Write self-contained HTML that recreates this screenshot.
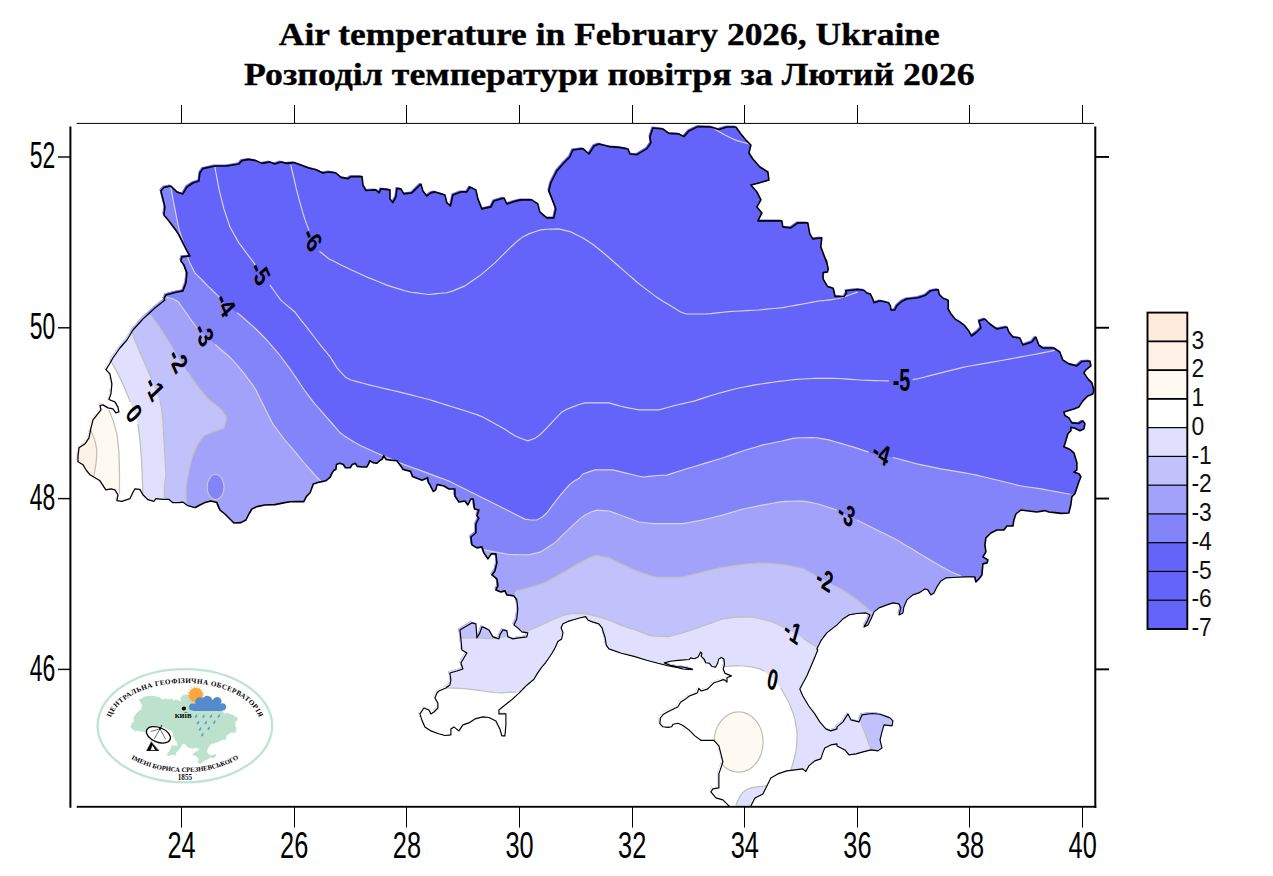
<!DOCTYPE html>
<html><head><meta charset="utf-8"><title>Air temperature in February 2026, Ukraine</title>
<style>
html,body{margin:0;padding:0;background:#fff;}
body{width:1273px;height:876px;overflow:hidden;position:relative;font-family:"Liberation Sans",sans-serif;}
.t{position:absolute;left:0;width:1273px;text-align:center;font-family:"Liberation Serif",serif;font-weight:bold;font-size:31.5px;color:#000;white-space:nowrap;line-height:36px;}
svg{position:absolute;left:0;top:0;}
svg text{font-family:"Liberation Sans",sans-serif;}
</style></head><body>

<svg width="1273" height="876" viewBox="0 0 1273 876">
<defs><clipPath id="ua"><path d="M163.9,298.9 L165.9,294.9 L174.9,292.5 L182.9,290.9 L185.9,282.9 L186.9,272.9 L183.9,264.9 L180.9,260.9 L181.9,256.9 L189.9,255.9 L186.9,250.9 L182.9,242.9 L178.9,234.9 L174.9,228.9 L168.9,220.9 L163.9,214.9 L164.9,206.9 L162.9,198.9 L160.9,190.9 L163.9,187.4 L170.9,186.0 L176.9,191.9 L182.9,193.9 L186.9,187.0 L192.9,183.0 L198.9,181.0 L199.9,173.0 L202.9,168.6 L214.9,166.0 L226.9,166.0 L238.9,164.0 L241.9,160.6 L248.9,159.4 L255.9,160.6 L261.9,163.4 L269.8,162.0 L274.8,164.0 L280.8,162.0 L286.8,163.4 L293.8,162.6 L300.8,165.0 L308.8,168.0 L316.8,170.0 L322.8,173.0 L329.0,172.0 L336.0,173.0 L341.0,177.4 L348.0,178.6 L351.0,176.6 L362.0,176.6 L363.0,185.0 L366.0,190.5 L376.0,189.9 L379.0,192.9 L381.0,188.9 L390.0,189.9 L390.0,198.9 L392.9,202.5 L395.9,196.9 L396.9,188.5 L400.9,188.9 L403.9,193.9 L411.9,192.9 L416.9,187.9 L420.9,184.0 L422.9,190.9 L426.9,195.9 L430.9,192.9 L434.9,191.9 L444.9,194.9 L446.9,202.9 L450.5,205.9 L452.9,194.9 L460.9,191.9 L466.9,191.9 L469.9,187.0 L475.9,189.9 L477.9,198.9 L481.9,208.9 L490.9,206.9 L493.9,200.9 L503.9,197.9 L506.9,203.9 L512.9,201.9 L520.8,199.9 L531.8,199.9 L537.8,203.9 L539.8,211.9 L546.8,217.9 L553.8,217.9 L555.8,208.9 L552.8,200.9 L548.8,190.9 L550.8,183.0 L556.8,171.0 L563.8,163.0 L569.8,157.0 L572.8,150.0 L583.0,148.6 L589.0,154.0 L594.0,146.0 L599.0,144.0 L609.0,146.6 L619.0,147.4 L628.0,149.0 L630.0,154.0 L637.0,154.6 L646.9,148.6 L650.9,143.0 L649.9,137.0 L652.9,128.0 L662.9,129.0 L668.9,133.4 L678.9,134.0 L683.9,136.6 L688.9,131.0 L697.9,126.6 L710.9,127.0 L718.9,129.4 L726.9,127.0 L735.9,127.0 L740.9,134.0 L745.9,140.0 L750.9,145.0 L748.9,153.0 L752.9,159.0 L759.9,167.0 L767.9,172.0 L768.9,180.0 L758.9,183.0 L750.9,185.0 L756.9,191.9 L760.9,199.9 L756.9,206.9 L761.9,212.9 L757.9,220.9 L766.9,220.9 L774.8,220.9 L781.8,220.9 L782.8,226.9 L790.8,227.9 L797.8,222.9 L807.8,222.9 L809.8,233.9 L812.8,238.9 L821.8,237.9 L820.8,246.9 L823.8,254.9 L826.8,262.9 L826.3,260.0 L828.2,268.8 L827.5,271.9 L823.1,272.6 L823.1,278.9 L825.7,283.3 L827.5,286.4 L833.2,288.3 L835.1,296.5 L843.9,296.5 L846.4,293.3 L845.8,290.8 L857.7,289.5 L864.0,290.2 L867.1,293.3 L870.3,293.9 L872.8,299.0 L874.0,302.7 L880.3,300.8 L888.5,302.7 L890.4,305.9 L891.0,310.0 L894.8,310.0 L896.7,305.9 L901.7,301.5 L906.7,299.0 L918.0,297.7 L925.6,295.2 L930.6,290.8 L938.1,289.5 L939.4,294.6 L943.2,298.3 L948.2,300.2 L948.2,309.0 L950.7,313.4 L955.1,319.1 L959.5,321.6 L964.5,325.4 L968.9,331.0 L971.5,336.0 L976.9,332.0 L980.9,328.0 L978.9,321.0 L984.9,319.0 L989.9,324.0 L996.9,329.0 L1006.9,327.0 L1008.9,332.0 L1012.9,337.0 L1019.9,338.0 L1022.9,345.0 L1031.8,342.0 L1035.8,337.0 L1038.8,345.0 L1042.8,348.0 L1053.8,348.0 L1059.8,352.0 L1062.8,360.0 L1068.9,363.9 L1076.9,365.9 L1081.9,361.5 L1089.9,361.0 L1090.9,365.9 L1085.9,369.9 L1083.9,372.9 L1087.9,378.9 L1091.9,382.9 L1093.8,389.9 L1092.9,393.9 L1087.9,395.9 L1082.9,400.9 L1078.9,406.9 L1073.9,408.9 L1063.9,411.9 L1064.9,415.5 L1068.9,417.9 L1071.9,422.9 L1078.9,423.5 L1082.9,420.9 L1084.9,423.8 L1083.9,428.8 L1079.9,430.8 L1074.9,428.2 L1070.9,427.4 L1070.9,430.8 L1067.9,433.8 L1065.9,440.8 L1063.9,446.8 L1069.9,449.4 L1073.9,452.8 L1076.9,462.8 L1076.9,469.8 L1073.9,472.2 L1078.9,473.8 L1080.9,476.8 L1078.9,481.8 L1076.9,487.7 L1074.9,493.7 L1071.9,496.7 L1070.8,505.0 L1068.8,513.0 L1060.8,513.4 L1054.8,512.6 L1048.8,512.0 L1044.8,510.6 L1036.8,512.0 L1028.8,511.0 L1020.9,510.0 L1015.9,514.0 L1013.9,520.0 L1012.9,526.0 L1006.9,526.0 L1003.9,530.0 L996.9,530.0 L990.9,533.0 L985.9,537.9 L984.9,544.9 L985.9,551.9 L982.9,556.9 L987.9,559.9 L986.9,562.9 L982.9,563.9 L981.9,574.9 L978.9,578.9 L975.9,581.9 L974.9,576.9 L964.9,576.9 L956.9,577.3 L945.9,577.9 L940.9,580.9 L936.9,586.9 L933.9,592.9 L930.9,594.9 L927.9,589.9 L924.9,588.9 L918.9,592.9 L912.9,594.9 L906.9,599.9 L903.9,606.9 L902.9,612.9 L899.0,614.9 L900.9,607.9 L899.0,603.9 L893.0,602.9 L887.0,604.9 L879.0,607.9 L874.0,611.9 L871.0,618.9 L868.0,624.9 L864.0,626.9 L867.0,621.9 L870.0,614.9 L866.0,612.9 L857.0,613.5 L849.0,614.9 L843.0,618.9 L837.0,624.9 L826.8,632.9 L820.8,640.9 L816.8,648.9 L817.8,650.0 L812.8,662.0 L806.8,676.0 L799.8,689.0 L802.8,696.0 L808.8,706.0 L814.8,713.9 L819.8,721.9 L825.8,728.9 L830.8,730.9 L837.0,728.9 L837.0,726.9 L843.0,721.9 L848.0,713.9 L851.0,719.9 L859.0,721.9 L862.0,714.9 L872.0,713.5 L880.0,714.3 L890.0,717.9 L893.0,720.9 L892.0,725.9 L884.0,724.9 L882.0,731.9 L880.0,739.9 L882.0,747.9 L878.0,750.9 L871.0,749.9 L863.0,751.9 L856.0,753.9 L849.0,754.9 L845.0,749.9 L837.0,745.9 L837.0,743.9 L830.8,744.9 L824.8,747.9 L822.8,752.9 L820.8,758.9 L814.8,760.9 L808.8,765.9 L805.8,771.5 L802.8,768.9 L794.8,769.9 L786.8,770.9 L777.8,773.9 L770.8,777.9 L765.9,787.9 L762.9,793.9 L754.9,797.9 L752.9,801.9 L749.9,807.9 L740.9,809.9 L730.9,808.9 L728.9,805.9 L726.9,803.9 L722.9,799.9 L715.9,797.9 L710.9,791.9 L712.9,788.9 L718.9,787.9 L718.9,773.9 L720.9,767.9 L722.9,761.9 L720.9,753.9 L718.9,745.9 L713.9,740.3 L706.9,740.3 L700.9,740.3 L694.9,735.9 L688.9,729.9 L682.9,725.5 L678.0,723.3 L673.0,724.3 L671.7,726.8 L667.9,727.4 L662.9,726.8 L659.8,723.6 L660.4,718.0 L663.5,714.2 L667.9,711.7 L673.0,709.2 L678.0,706.7 L680.5,702.3 L685.5,699.1 L689.3,696.0 L694.3,694.1 L697.5,692.8 L698.7,688.4 L701.2,691.0 L707.5,689.1 L710.7,685.9 L713.8,682.8 L718.2,681.5 L723.2,679.6 L725.1,680.3 L727.0,682.2 L727.0,677.8 L731.4,675.9 L728.3,674.6 L725.1,673.4 L723.2,669.0 L724.5,664.6 L723.9,658.9 L721.3,657.4 L718.8,658.9 L717.6,663.3 L715.7,667.1 L711.9,666.5 L709.4,663.3 L705.6,662.7 L704.4,659.5 L701.2,656.4 L701.9,653.3 L700.6,652.0 L698.1,657.0 L694.3,658.7 L690.6,657.9 L689.3,659.5 L678.0,660.4 L670.4,661.2 L664.2,662.9 L670.4,665.2 L676.7,666.5 L683.0,667.1 L692.4,669.0 L692.4,669.6 L683.0,669.0 L678.0,667.7 L667.9,665.8 L657.9,663.3 L646.6,660.2 L634.0,656.4 L621.4,653.3 L608.9,648.9 L606.3,645.1 L605.1,637.5 L602.6,630.0 L602.5,628.3 L598.8,623.9 L593.1,622.1 L588.1,620.2 L585.6,616.6 L580.6,617.7 L574.3,619.5 L568.0,621.4 L563.0,623.7 L561.1,627.7 L563.0,632.7 L561.7,639.0 L557.9,641.5 L555.4,647.2 L552.3,652.8 L548.5,658.5 L545.4,662.9 L541.6,667.3 L537.2,673.6 L534.0,679.2 L526.5,685.5 L519.0,693.1 L512.1,699.4 L498.9,710.0 L498.9,713.9 L505.9,713.9 L505.9,724.9 L504.9,735.9 L501.9,735.9 L499.9,728.9 L495.9,720.9 L488.9,717.5 L482.9,716.9 L474.9,718.9 L468.9,722.9 L462.9,724.9 L458.9,730.9 L453.9,726.9 L450.9,728.9 L450.9,734.9 L444.9,735.5 L437.9,733.5 L430.9,730.9 L424.9,726.9 L421.9,719.9 L419.9,713.9 L423.9,708.0 L428.9,710.0 L430.9,713.9 L433.9,712.0 L437.9,708.0 L437.9,703.0 L434.9,698.0 L436.9,693.0 L438.9,691.0 L445.9,688.0 L449.9,685.0 L450.9,680.0 L449.9,673.0 L456.9,671.0 L462.9,669.0 L460.9,663.0 L463.9,658.0 L466.9,653.0 L461.9,650.0 L460.9,638.9 L459.9,629.9 L464.9,626.9 L471.9,622.9 L475.9,623.9 L476.9,637.9 L479.9,632.9 L481.9,626.9 L484.9,627.9 L488.9,629.9 L492.9,636.9 L498.9,638.9 L499.9,634.9 L502.9,629.9 L506.9,630.9 L507.9,636.9 L512.9,638.9 L518.8,637.9 L526.8,636.9 L527.8,632.9 L521.8,631.9 L518.8,628.9 L513.9,624.9 L516.8,618.9 L517.8,608.9 L516.8,599.9 L513.9,595.9 L506.9,594.9 L504.9,590.9 L500.9,591.9 L495.9,589.9 L497.9,585.9 L496.9,578.9 L491.9,574.9 L494.9,570.9 L496.9,562.9 L495.9,553.9 L491.3,553.9 L487.9,558.9 L483.9,552.9 L481.9,546.9 L476.9,547.9 L471.9,544.9 L470.9,537.0 L475.9,533.0 L475.9,524.0 L478.9,518.0 L476.9,516.0 L478.9,510.0 L474.5,509.0 L473.3,499.0 L470.9,499.0 L467.9,505.0 L464.9,501.0 L458.9,502.0 L454.9,496.0 L454.9,489.0 L448.9,489.0 L443.9,486.0 L437.9,484.6 L437.1,484.6 L435.8,489.6 L433.3,491.5 L430.1,485.2 L428.3,482.1 L427.6,477.7 L422.0,480.2 L416.9,478.3 L412.5,476.5 L410.7,471.4 L403.1,469.5 L400.6,465.8 L396.8,460.7 L390.6,460.1 L386.2,459.5 L383.6,455.7 L382.4,458.9 L379.9,460.7 L376.7,463.3 L373.0,462.6 L369.8,460.7 L368.6,463.9 L366.7,467.0 L362.3,467.0 L357.2,466.4 L355.4,463.3 L352.2,464.5 L350.3,467.7 L345.3,467.7 L343.4,464.5 L339.6,463.3 L336.5,464.5 L335.9,469.5 L334.0,470.2 L332.1,472.9 L330.2,477.1 L325.8,480.8 L319.5,482.1 L313.3,484.0 L310.1,492.8 L306.3,496.6 L303.8,501.6 L297.5,501.6 L290.0,501.8 L284.8,502.6 L274.8,504.6 L264.8,505.0 L256.9,506.6 L251.9,509.0 L248.9,514.0 L245.9,520.0 L240.9,522.6 L233.9,523.0 L229.9,519.0 L224.9,514.0 L219.9,510.0 L216.9,502.6 L210.9,501.0 L204.9,502.6 L199.9,505.0 L194.8,507.7 L187.8,505.7 L182.8,502.1 L178.8,502.7 L172.8,502.7 L168.8,499.3 L162.9,499.3 L155.9,498.7 L153.9,501.3 L147.9,499.7 L142.9,494.8 L139.9,489.4 L134.9,488.8 L132.3,493.8 L129.9,498.7 L121.9,501.3 L116.9,500.7 L117.9,494.8 L114.9,489.8 L110.9,488.8 L105.9,489.8 L103.9,486.8 L100.0,480.8 L95.0,477.8 L90.0,474.8 L86.0,469.8 L83.0,464.8 L78.0,461.8 L78.0,455.8 L79.0,447.8 L85.0,443.8 L89.0,437.8 L91.0,427.9 L93.0,419.9 L97.0,414.9 L101.0,409.9 L100.0,405.5 L102.9,404.9 L107.9,407.9 L112.9,408.9 L115.9,412.9 L118.9,411.9 L117.9,406.9 L114.9,401.9 L108.9,399.5 L110.9,393.9 L111.9,383.9 L109.9,373.9 L105.9,369.6 L108.9,365.0 L112.9,358.0 L119.9,348.0 L126.9,340.0 L133.0,330.0 L142.9,319.0 L154.9,308.0 L164.9,300.0 Z"/></clipPath><clipPath id="fr"><rect x="71" y="123" width="1024" height="683.5"/></clipPath></defs>
<g clip-path="url(#fr)">
<use href="#mapfill" transform="translate(-1.4,-1.4)"/>
<g clip-path="url(#ua)" id="mapfill">
<rect x="60" y="110" width="1060" height="720" fill="rgb(100,100,250)"/>
<path d="M0.0,170.0 L170.0,170.0 L170.9,187.9 L174.9,208.9 L178.9,228.9 L183.9,244.9 L188.9,260.9 L194.9,272.9 L204.9,282.9 L214.9,292.9 L220.9,298.9 L227.9,306.0 L238.9,314.0 L254.9,328.0 L266.8,340.0 L278.8,354.0 L290.8,369.9 L302.8,387.9 L314.8,403.9 L329.0,419.9 L341.0,433.9 L359.0,444.9 L381.0,454.9 L404.9,464.9 L418.9,469.9 L432.9,475.1 L448.9,481.0 L468.9,491.0 L488.9,501.0 L508.9,511.0 L526.8,520.0 L538.8,520.0 L546.8,513.0 L558.8,497.0 L570.8,483.0 L583.0,476.0 L583.0,473.9 L595.0,469.9 L613.0,469.9 L629.0,473.9 L643.0,477.0 L662.9,475.0 L666.9,475.1 L682.9,469.9 L702.9,463.9 L722.9,457.9 L742.9,450.9 L762.9,444.9 L782.8,440.9 L794.8,437.9 L814.8,437.5 L828.8,439.9 L837.0,442.3 L853.0,446.9 L871.0,452.9 L882.0,455.3 L895.0,457.9 L916.9,463.9 L940.9,468.9 L964.9,472.9 L976.9,475.1 L1000.0,480.8 L1020.0,485.8 L1039.9,488.7 L1069.9,494.1 L1200.0,500.0 L1200.0,900.0 L0.0,900.0 Z" fill="rgb(131,131,250)"/>
<path d="M0.0,297.0 L166.0,297.0 L176.9,300.0 L186.9,314.0 L196.9,328.0 L206.9,337.0 L216.9,346.0 L230.9,358.0 L242.9,371.9 L254.9,387.9 L262.8,403.9 L272.8,423.9 L284.8,439.9 L296.8,453.9 L306.8,465.9 L314.8,475.1 L320.8,481.0 L325.0,520.0 L470.0,560.0 L483.9,549.9 L494.9,551.9 L508.9,554.5 L528.8,554.9 L540.8,551.9 L554.8,542.9 L568.8,529.0 L583.0,516.0 L595.0,510.0 L609.0,511.0 L623.0,516.0 L639.0,522.0 L652.9,523.6 L682.9,523.6 L702.9,520.0 L722.9,515.0 L742.9,509.0 L762.9,505.0 L782.8,501.4 L802.8,501.0 L818.8,504.0 L837.0,510.0 L848.0,516.0 L857.0,520.0 L877.0,530.0 L897.0,539.9 L916.9,551.9 L936.9,563.9 L948.9,570.9 L960.9,575.9 L1200.0,600.0 L1200.0,900.0 L0.0,900.0 Z" fill="rgb(162,162,250)"/>
<ellipse cx="215.6" cy="487" rx="8.5" ry="12.5" fill="rgb(131,131,250)"/>
<path d="M0.0,315.0 L150.9,315.0 L158.9,326.0 L168.9,342.0 L179.9,360.0 L188.9,373.9 L198.9,387.9 L208.9,399.9 L220.9,408.9 L226.9,417.9 L223.9,427.9 L212.9,431.9 L202.9,435.9 L196.9,445.9 L191.9,457.9 L187.9,475.1 L185.9,487.0 L186.5,503.0 L190.0,560.0 L500.0,620.0 L515.9,590.9 L528.8,587.9 L544.8,582.9 L562.8,572.9 L583.0,560.9 L595.0,555.3 L609.0,557.9 L623.0,564.9 L639.0,571.9 L654.9,577.3 L682.9,577.3 L702.9,571.9 L722.9,567.3 L742.9,564.5 L762.9,562.9 L782.8,564.5 L802.8,568.5 L814.8,574.9 L825.8,580.9 L837.0,586.9 L849.0,593.9 L861.0,602.9 L870.0,610.9 L1200.0,640.0 L1200.0,900.0 L0.0,900.0 Z" fill="rgb(193,193,252)"/>
<path d="M0.0,333.0 L132.0,333.0 L138.9,350.0 L145.9,365.9 L151.9,379.9 L155.9,390.9 L160.9,403.9 L162.9,419.9 L163.9,439.9 L164.9,455.9 L165.9,475.1 L164.3,487.0 L164.5,498.6 L165.0,560.0 L430.0,600.0 L440.0,638.0 L461.9,637.9 L476.9,637.9 L494.9,638.9 L528.4,630.8 L536.6,627.1 L545.4,623.3 L555.4,618.3 L565.5,614.5 L575.5,613.3 L586.8,613.9 L599.4,617.0 L612.0,621.4 L624.5,626.5 L640.0,631.5 L650.9,635.9 L668.9,636.5 L682.9,632.9 L702.9,625.9 L722.9,618.9 L738.9,616.9 L754.9,617.3 L772.8,621.9 L794.8,632.9 L806.8,640.9 L816.8,646.9 L850.0,680.0 L861.0,722.9 L866.0,735.9 L871.0,749.9 L875.0,800.0 L875.0,900.0 L0.0,900.0 Z" fill="rgb(224,224,254)"/>
<path d="M0.0,361.0 L110.9,361.0 L116.9,371.9 L122.9,383.9 L127.9,395.9 L130.9,403.9 L134.3,412.9 L137.9,423.9 L139.9,439.8 L141.5,459.8 L142.3,479.8 L142.9,493.8 L143.0,600.0 L0.0,600.0 Z" fill="rgb(255,255,255)"/>
<path d="M400.0,688.0 L446.9,688.0 L464.9,688.6 L482.9,691.0 L498.9,693.0 L516.8,692.0 L560.0,692.0 L560.0,900.0 L400.0,900.0 Z" fill="rgb(255,255,255)"/>
<path d="M724.5,666.5 L738.9,665.6 L752.9,667.0 L762.9,670.0 L772.4,678.0 L780.8,688.0 L788.8,702.0 L794.8,717.9 L797.2,733.9 L796.4,749.9 L792.8,763.9 L790.8,769.9 L778.0,782.0 L765.9,785.9 L756.9,786.9 L748.9,787.9 L740.9,793.9 L735.9,804.9 L736.0,830.0 L650.0,830.0 L650.0,700.0 L700.0,680.0 L723.0,668.0 Z" fill="rgb(255,255,255)"/>
<path d="M0.0,410.0 L108.9,409.9 L112.9,419.9 L116.9,433.8 L118.9,451.8 L119.5,471.8 L119.5,493.8 L119.5,600.0 L0.0,600.0 Z" fill="rgb(254,249,241)"/>
<ellipse cx="738.6" cy="742" rx="24.5" ry="30.2" fill="rgb(254,249,241)"/>
<path d="M0.0,431.0 L91.0,430.9 L95.0,439.8 L97.0,451.8 L96.0,463.8 L94.0,475.8 L94.0,600.0 L0.0,600.0 Z" fill="rgb(254,242,230)"/>
<path d="M170.9,187.9 L172.1,194.2 L173.3,200.5 L174.5,206.8 L175.7,212.9 L176.9,218.9 L178.1,224.9 L179.5,230.9 L181.4,236.9 L183.3,242.9 L185.2,248.9 L187.0,254.9 L188.9,260.9 L191.9,266.9 L194.9,272.9 L199.2,277.2 L203.5,281.5 L207.8,285.8 L212.0,290.0 L216.4,294.4 L219.4,297.4 M237.1,312.7 L242.1,316.8 L246.9,321.0 L251.7,325.2 L256.4,329.5 L260.9,334.0 L265.3,338.5 L269.5,343.1 L273.5,347.8 L277.5,352.4 L281.5,357.5 L285.5,362.8 L289.5,368.1 L293.2,373.5 L296.8,378.9 L300.4,384.3 L304.0,389.5 L307.6,394.3 L311.2,399.1 L314.8,403.9 L319.1,408.7 L323.3,413.5 L327.6,418.3 L331.7,423.0 L335.7,427.7 L339.7,432.3 L344.6,436.1 L350.0,439.4 L355.4,442.7 L360.8,445.7 L366.3,448.2 L371.8,450.7 L377.3,453.2 L383.0,455.7 L389.0,458.2 L394.9,460.7 L400.9,463.2 L406.9,465.6 L412.9,467.8 L418.9,469.9 L424.9,472.1 L430.9,474.4 L436.9,476.6 L442.9,478.8 L448.9,481.0 L454.4,483.7 L459.8,486.5 L465.3,489.2 L470.7,491.9 L476.2,494.6 L481.6,497.4 L487.1,500.1 L492.5,502.8 L498.0,505.5 L503.4,508.3 L508.9,511.0 L514.3,513.7 L519.6,516.4 L525.0,519.1 L530.8,520.0 L536.8,520.0 L542.0,517.2 L546.8,513.0 L550.4,508.2 L554.0,503.4 L557.6,498.6 L561.5,493.9 L565.5,489.2 L569.5,484.6 L574.3,481.0 L579.5,478.0 L583.0,473.9 L589.0,471.9 L595.0,469.9 L601.0,469.9 L607.0,469.9 L613.0,469.9 L619.0,471.4 L625.0,472.9 L631.0,474.3 L637.0,475.7 L643.0,477.0 L649.0,476.4 L654.9,475.8 L660.9,475.2 L666.9,475.1 L672.9,473.1 L678.9,471.2 L684.9,469.3 L690.9,467.5 L696.9,465.7 L702.9,463.9 L708.9,462.1 L714.9,460.3 L720.9,458.5 L726.9,456.5 L732.9,454.4 L738.9,452.3 L744.9,450.3 L750.9,448.5 L756.9,446.7 L762.9,444.9 L768.9,443.7 L774.8,442.5 L780.8,441.3 L786.8,439.9 L792.8,438.4 L798.8,437.8 L804.8,437.7 L810.8,437.6 L816.8,437.8 L822.8,438.9 L828.8,439.9 L835.0,441.7 L841.0,443.4 L847.0,445.2 L853.0,446.9 L859.0,448.9 L865.0,450.9 L869.0,452.2 M892.8,457.5 L899.0,459.0 L905.0,460.6 L910.9,462.3 L916.9,463.9 L922.9,465.1 L928.9,466.4 L934.9,467.6 L940.9,468.9 L946.9,469.9 L952.9,470.9 L958.9,471.9 L964.9,472.9 L970.9,474.0 L976.9,475.1 L983.2,476.7 L989.5,478.2 L995.8,479.8 L1002.0,481.3 L1008.0,482.8 L1014.0,484.3 L1020.0,485.8 L1026.0,486.7 L1031.9,487.5 L1037.9,488.4 L1043.9,489.4 L1049.9,490.5 L1055.9,491.6 L1061.9,492.7 L1067.9,493.7 L1069.9,494.1 M214.9,167.0 L216.0,173.0 L217.1,178.9 L218.2,184.9 L219.4,190.9 L220.9,196.9 L222.4,202.9 L223.9,208.9 L225.9,214.9 L227.9,220.9 L229.9,226.9 L232.9,232.2 L235.9,237.6 L238.9,242.9 L242.9,248.2 L246.9,253.6 L250.9,258.9 L254.6,263.9 L255.8,265.6 M269.8,284.9 L273.5,290.0 L277.1,295.0 L280.8,300.1 L285.5,304.1 L290.1,308.0 L294.8,312.0 L298.6,316.9 L302.4,321.8 L306.3,326.7 L310.1,331.6 L313.9,336.5 L317.7,341.5 L321.5,346.4 L325.9,351.5 L330.1,356.8 L333.6,362.4 L337.0,367.9 L341.3,372.6 L345.6,377.3 L351.0,380.0 L357.0,381.6 L363.0,383.3 L369.0,384.9 L375.0,386.3 L381.0,387.7 L386.9,389.1 L392.9,390.5 L398.9,391.9 L404.9,393.4 L410.9,394.9 L416.9,396.5 L422.9,398.0 L428.9,399.5 L434.9,401.4 L440.9,403.3 L446.9,405.1 L452.9,407.0 L458.9,408.9 L464.9,410.8 L470.9,412.7 L476.9,414.6 L482.7,416.9 L488.2,419.9 L493.6,422.9 L499.1,425.9 L504.4,429.1 L509.7,432.5 L515.0,435.8 L521.2,438.5 L527.8,440.9 L534.5,438.6 L539.7,435.0 L543.9,430.8 L548.3,426.4 L552.6,421.7 L557.0,417.1 L561.3,412.4 L566.8,409.3 L572.9,406.9 L579.0,404.5 L585.0,402.9 L591.0,402.9 L597.0,402.9 L603.0,402.9 L609.0,402.9 L615.0,404.6 L621.0,406.3 L627.0,407.6 L633.0,408.8 L639.0,409.9 L645.6,409.9 L652.3,409.9 L658.9,409.9 L664.9,408.2 L670.9,406.5 L676.9,405.0 L682.9,403.6 L688.9,402.3 L694.9,400.9 L700.9,398.9 L706.9,396.9 L712.9,395.0 L718.9,393.2 L724.9,391.6 L730.9,390.0 L736.9,388.5 L742.9,387.3 L748.9,386.1 L754.9,384.9 L760.9,384.0 L766.8,383.1 L772.8,382.2 L778.8,381.4 L784.8,380.7 L790.8,380.0 L796.8,379.4 L802.8,379.0 L808.8,378.7 L814.8,378.3 L820.9,378.3 L826.9,378.3 L833.0,378.3 L839.0,378.5 L845.0,378.9 L851.0,379.4 L857.0,379.8 L863.0,380.3 L869.0,380.4 L875.0,380.6 L881.0,380.7 L887.0,380.9 L889.0,380.9 M912.7,379.6 L918.9,378.5 L924.9,377.0 L930.9,375.4 L936.9,373.9 L942.9,372.4 L948.9,370.9 L954.9,369.4 L960.9,367.9 L966.9,366.5 L972.9,365.5 L978.9,364.4 L984.9,363.4 L990.9,362.4 L996.9,361.3 L1002.9,360.2 L1008.9,359.1 L1014.9,358.0 L1020.9,356.9 L1026.8,355.8 L1032.8,354.7 L1038.8,353.6 L1044.8,352.4 L1050.8,351.2 L1054.8,350.4 M290.8,165.0 L292.2,171.0 L293.6,177.0 L295.0,182.9 L296.3,188.9 L297.9,194.9 L299.5,200.9 L301.2,206.9 L302.8,212.9 L304.8,218.9 L306.8,224.9 L309.1,230.5 L309.1,230.5 M319.4,251.2 L324.2,255.0 L329.0,258.9 L334.5,261.6 L339.9,264.4 L345.4,267.1 L351.0,269.8 L357.0,272.5 L363.0,275.2 L369.0,277.9 L375.0,280.3 L381.0,282.7 L387.0,285.1 L393.0,287.1 L398.9,288.9 L404.9,290.7 L410.9,292.2 L416.9,292.9 L422.9,293.7 L428.9,294.5 L434.9,293.9 L440.9,293.3 L446.9,292.7 L452.9,290.9 L458.9,288.4 L464.9,285.9 L470.2,282.2 L475.6,278.6 L480.9,274.9 L485.6,270.9 L490.2,266.9 L494.9,262.9 L499.6,258.2 L504.2,253.6 L508.9,248.9 L513.4,244.8 L517.8,240.7 L522.8,236.9 L528.8,233.9 L534.8,231.7 L540.8,229.9 L546.8,229.2 L552.8,229.1 L558.8,228.9 L564.8,230.4 L570.8,231.9 L576.9,234.9 L583.0,237.9 L588.1,241.3 L593.3,244.8 L598.4,248.8 L603.6,253.0 L608.6,257.3 L613.4,261.5 L618.2,265.7 L623.0,269.9 L627.8,274.1 L632.6,278.3 L637.4,282.5 L642.3,286.4 L647.3,290.1 L652.3,293.9 L657.2,297.6 L662.9,301.3 L668.9,304.8 L674.6,308.3 L680.2,311.7 L686.0,314.0 L692.3,314.0 L698.5,314.0 L704.8,314.0 L710.9,313.6 L716.9,312.9 L722.9,312.3 L728.9,311.6 L734.9,311.3 L740.9,311.0 L746.9,310.6 L752.9,310.3 L758.9,310.0 L764.9,309.4 L770.8,308.8 L776.8,308.2 L782.8,307.6 L788.8,306.5 L794.8,305.4 L800.8,304.4 L806.8,303.2 L812.8,302.1 L818.8,301.0 L825.3,300.4 L831.5,299.6 L837.6,298.7 L845.1,296.5 L851.4,294.3 L857.7,292.1 L857.7,292.1 M712.9,128.0 L718.9,131.6 L724.9,135.0 L730.9,138.0 L736.9,140.6 L742.9,142.3 L748.9,144.0 L748.9,144.0 M166.0,297.0 L172.5,298.8 L178.2,301.8 L181.9,307.0 L185.7,312.2 L189.4,317.5 L193.2,322.8 L196.9,328.0 L196.9,328.0 M215.2,344.5 L220.0,348.7 L224.7,352.7 L229.3,356.7 L233.6,361.1 L237.6,365.7 L241.6,370.4 L245.3,375.1 L248.9,379.9 L252.5,384.7 L255.9,389.9 L258.9,395.9 L261.8,401.9 L264.6,407.5 L267.3,413.0 L270.1,418.4 L272.8,423.9 L276.4,428.7 L280.0,433.5 L283.6,438.3 L287.5,443.0 L291.5,447.7 L295.5,452.3 L299.7,457.3 L303.9,462.5 L308.1,467.4 L312.1,472.0 L316.3,476.6 L320.8,481.0 L320.8,481.0 M483.9,549.9 L490.5,551.1 L496.9,552.3 L502.9,553.4 L508.9,554.5 L515.5,554.6 L522.2,554.8 L528.8,554.9 L534.8,553.4 L540.8,551.9 L546.0,548.5 L551.3,545.1 L556.4,541.4 L561.0,536.7 L565.7,532.1 L570.4,527.6 L575.1,523.2 L579.8,518.9 L585.0,515.0 L591.0,512.0 L597.0,510.1 L603.0,510.6 L609.0,511.0 L615.0,513.1 L621.0,515.3 L627.0,517.5 L633.0,519.8 L639.0,522.0 L646.0,522.8 L652.9,523.6 L658.9,523.6 L664.9,523.6 L670.9,523.6 L676.9,523.6 L682.9,523.6 L688.9,522.5 L694.9,521.4 L700.9,520.4 L706.9,519.0 L712.9,517.5 L718.9,516.0 L724.9,514.4 L730.9,512.6 L736.9,510.8 L742.9,509.0 L748.9,507.8 L754.9,506.6 L760.9,505.4 L766.9,504.3 L772.8,503.2 L778.8,502.1 L784.8,501.4 L790.8,501.2 L796.8,501.1 L802.8,501.0 L808.8,502.1 L814.8,503.2 L820.8,504.7 L826.9,506.7 L833.0,508.7 L837.0,510.0 M857.0,520.0 L862.5,522.7 L867.9,525.5 L873.4,528.2 L878.8,530.9 L884.3,533.6 L889.7,536.3 L895.2,539.0 L900.6,542.1 L906.0,545.4 L911.5,548.6 L916.9,551.9 L922.4,555.2 L927.8,558.4 L933.3,561.7 L938.9,565.1 L944.9,568.6 L950.9,571.7 L956.9,574.2 L960.9,575.9" fill="none" stroke="rgb(214,214,212)" stroke-width="1.15"/><path d="M150.9,315.0 L154.9,320.5 L158.9,326.0 L162.2,331.3 L165.6,336.7 L168.9,342.0 L172.2,347.4 L174.4,351.0 M187.8,372.2 L191.4,377.4 L195.2,382.6 L198.9,387.9 L203.2,393.0 L207.5,398.2 L212.3,402.5 L217.5,406.3 L222.1,410.7 L225.7,416.1 L225.7,421.9 L223.9,427.9 L217.3,430.3 L210.9,432.7 L204.9,435.1 L200.5,439.9 L196.9,445.9 L194.4,451.9 L191.9,457.9 L190.4,464.4 L188.9,470.8 L187.6,477.1 L186.6,483.0 L186.0,489.0 L186.2,495.0 L186.4,501.0 L186.5,503.0 M515.9,590.9 L522.3,589.4 L528.8,587.9 L534.8,586.0 L540.8,584.1 L546.6,581.9 L552.0,578.9 L557.4,575.9 L562.8,572.9 L568.3,569.6 L573.8,566.4 L579.3,563.1 L585.0,560.0 L591.0,557.2 L597.0,555.7 L603.0,556.8 L609.0,557.9 L615.0,560.9 L621.0,563.9 L627.0,566.6 L633.0,569.3 L639.0,571.9 L645.0,573.9 L650.9,575.9 L656.9,577.3 L662.9,577.3 L668.9,577.3 L674.9,577.3 L680.9,577.3 L686.9,576.2 L692.9,574.6 L698.9,573.0 L704.9,571.4 L710.9,570.1 L716.9,568.7 L722.9,567.3 L728.9,566.5 L734.9,565.6 L740.9,564.8 L746.9,564.2 L752.9,563.7 L758.9,563.2 L765.1,563.1 L771.7,563.6 L778.4,564.1 L784.8,564.9 L790.8,566.1 L796.8,567.3 L802.8,568.5 L808.8,571.7 L814.8,574.9 L814.8,574.9 M835.1,585.9 L841.0,589.2 L847.0,592.7 L852.4,596.5 L857.6,600.3 L862.5,604.2 L867.0,608.2 L870.0,610.9 M132.0,333.0 L134.3,338.7 L136.6,344.3 L138.9,350.0 L141.5,356.0 L144.2,361.9 L146.8,367.9 L149.3,373.9 L151.9,379.9 L151.9,379.9 M160.1,401.7 L161.4,407.9 L162.2,413.9 L162.9,419.9 L163.2,425.9 L163.5,431.9 L163.8,437.9 L164.2,443.9 L164.5,449.9 L164.9,455.9 L165.2,462.3 L165.6,468.7 L165.9,475.1 L165.1,481.1 L164.3,487.0 L164.4,494.0 L164.5,498.6 M440.0,638.0 L446.6,638.0 L453.1,637.9 L459.7,637.9 L466.2,637.9 L472.6,637.9 L478.9,638.0 L484.9,638.3 L490.9,638.7 L496.9,638.4 L502.8,637.0 L508.7,635.6 L514.6,634.1 L520.5,632.7 L526.4,631.3 L532.5,629.0 L538.8,626.1 L545.4,623.3 L551.4,620.3 L557.4,617.5 L563.5,615.3 L569.5,614.0 L575.5,613.3 L582.3,613.7 L588.9,614.4 L595.2,616.0 L601.5,617.7 L607.8,619.9 L614.1,622.2 L620.3,624.8 L626.4,627.1 L632.2,629.0 L638.1,630.9 L644.4,633.3 L650.9,635.9 L656.9,636.1 L662.9,636.3 L668.9,636.5 L674.9,635.0 L680.9,633.4 L686.9,631.5 L692.9,629.4 L698.9,627.3 L704.9,625.2 L710.9,623.1 L716.9,621.0 L722.9,618.9 L728.9,618.1 L734.9,617.4 L740.9,616.9 L746.9,617.1 L752.9,617.2 L758.9,618.3 L764.8,619.9 L770.8,621.4 L776.5,623.7 L782.0,626.5 L783.8,627.4 M803.4,638.6 L808.8,642.1 L814.8,645.7 L816.8,646.9 M861.0,722.9 L863.5,729.4 L866.0,735.9 L868.1,741.9 L870.3,747.9 L871.0,749.9 M110.9,361.0 L113.9,366.4 L116.9,371.9 L119.9,377.9 L122.9,383.9 L125.4,389.9 L127.9,395.9 L130.2,401.9 L130.2,401.9 M137.9,423.9 L138.7,429.9 L139.4,435.8 L140.1,441.8 L140.5,447.8 L141.0,453.8 L141.5,459.8 L141.7,465.8 L142.0,471.8 L142.2,477.8 L142.5,483.8 L142.7,489.8 L142.9,493.8 M446.9,688.0 L452.9,688.2 L458.9,688.4 L464.9,688.6 L470.9,689.4 L476.9,690.2 L482.9,691.0 L488.9,691.8 L494.9,692.5 L501.1,692.9 L507.8,692.5 L514.6,692.1 L516.8,692.0 M724.5,666.5 L730.7,666.1 L736.8,665.7 L742.9,666.0 L748.9,666.6 L754.9,667.6 L760.9,669.4 L764.5,671.3 M780.8,688.0 L783.8,693.2 L786.8,698.5 L789.5,704.0 L791.8,710.0 L794.0,715.9 L795.4,721.9 L796.3,727.9 L797.2,733.9 L796.9,739.9 L796.6,745.9 L795.9,751.9 L794.3,757.9 L792.8,763.9 L790.8,769.9 L790.8,769.9 M765.9,785.9 L759.1,786.6 L752.9,787.4 L747.3,789.1 L742.5,792.7 L739.2,797.6 L736.7,803.1 L735.9,804.9 M108.9,409.9 L111.3,415.9 L113.5,421.9 L115.2,427.8 L116.9,433.8 L117.6,439.8 L118.2,445.8 L118.9,451.8 L119.1,457.8 L119.3,463.8 L119.4,469.8 L119.5,475.8 L119.5,481.8 L119.5,487.8 L119.5,493.8 L119.5,493.8 M91.0,430.9 L94.0,437.6 L95.7,443.8 L96.7,449.8 L96.7,455.8 L96.2,461.8 L95.3,467.8 L94.3,473.8 L94.0,475.8" fill="none" stroke="rgb(192,192,186)" stroke-width="1.25"/>
<ellipse cx="215.6" cy="487" rx="8.5" ry="12.5" fill="none" stroke="rgb(200,200,193)" stroke-width="1.2"/><ellipse cx="738.6" cy="742" rx="24.5" ry="30.2" fill="none" stroke="rgb(192,192,186)" stroke-width="1.25"/>
</g>
<path d="M516.8,599.9 L513.9,595.9 L506.9,594.9 L504.9,590.9 L500.9,591.9 L495.9,589.9 L497.9,585.9 L496.9,578.9 L491.9,574.9 L494.9,570.9 L496.9,562.9 L495.9,553.9 L491.3,553.9 L487.9,558.9 L483.9,552.9 L481.9,546.9 L476.9,547.9 L471.9,544.9 L470.9,537.0 L475.9,533.0 L475.9,524.0 L478.9,518.0 L476.9,516.0 L478.9,510.0 L474.5,509.0 L473.3,499.0 L470.9,499.0 L467.9,505.0 L464.9,501.0 L458.9,502.0 L454.9,496.0 L454.9,489.0 L448.9,489.0 L443.9,486.0 L437.9,484.6 L437.1,484.6 L435.8,489.6 L433.3,491.5 L430.1,485.2 L428.3,482.1 L427.6,477.7 L422.0,480.2 L416.9,478.3 L412.5,476.5 L410.7,471.4 L403.1,469.5 L400.6,465.8 L396.8,460.7 L390.6,460.1 L386.2,459.5 L383.6,455.7 L382.4,458.9 L379.9,460.7 L376.7,463.3 L373.0,462.6 L369.8,460.7 L368.6,463.9 L366.7,467.0 L362.3,467.0 L357.2,466.4 L355.4,463.3 L352.2,464.5 L350.3,467.7 L345.3,467.7 L343.4,464.5 L339.6,463.3 L336.5,464.5 L335.9,469.5 L334.0,470.2 L332.1,472.9 L330.2,477.1 L325.8,480.8 L319.5,482.1 L313.3,484.0 L310.1,492.8 L306.3,496.6 L303.8,501.6 L297.5,501.6 L290.0,501.8 L284.8,502.6 L274.8,504.6 L264.8,505.0 L256.9,506.6 L251.9,509.0 L248.9,514.0 L245.9,520.0 L240.9,522.6 L233.9,523.0 L229.9,519.0 L224.9,514.0 L219.9,510.0 L216.9,502.6 L210.9,501.0 L204.9,502.6 L199.9,505.0 L194.8,507.7 M163.9,298.9 L165.9,294.9 L174.9,292.5 L182.9,290.9 L185.9,282.9 L186.9,272.9 L183.9,264.9 L180.9,260.9 L181.9,256.9 L189.9,255.9 L186.9,250.9 L182.9,242.9 L178.9,234.9 L174.9,228.9 L168.9,220.9 L163.9,214.9 L164.9,206.9 L162.9,198.9 L160.9,190.9 L163.9,187.4 L170.9,186.0 L176.9,191.9 L182.9,193.9 L186.9,187.0 L192.9,183.0 L198.9,181.0 L199.9,173.0 L202.9,168.6 L214.9,166.0 L226.9,166.0 L238.9,164.0 L241.9,160.6 L248.9,159.4 L255.9,160.6 L261.9,163.4 L269.8,162.0 L274.8,164.0 L280.8,162.0 L286.8,163.4 L293.8,162.6 L300.8,165.0 L308.8,168.0 L316.8,170.0 L322.8,173.0 L329.0,172.0 L336.0,173.0 L341.0,177.4 L348.0,178.6 L351.0,176.6 L362.0,176.6 L363.0,185.0 L366.0,190.5 L376.0,189.9 L379.0,192.9 L381.0,188.9 L390.0,189.9 L390.0,198.9 L392.9,202.5 L395.9,196.9 L396.9,188.5 L400.9,188.9 L403.9,193.9 L411.9,192.9 L416.9,187.9 L420.9,184.0 L422.9,190.9 L426.9,195.9 L430.9,192.9 L434.9,191.9 L444.9,194.9 L446.9,202.9 L450.5,205.9 L452.9,194.9 L460.9,191.9 L466.9,191.9 L469.9,187.0 L475.9,189.9 L477.9,198.9 L481.9,208.9 L490.9,206.9 L493.9,200.9 L503.9,197.9 L506.9,203.9 L512.9,201.9 L520.8,199.9 L531.8,199.9 L537.8,203.9 L539.8,211.9 L546.8,217.9 L553.8,217.9 L555.8,208.9 L552.8,200.9 L548.8,190.9 L550.8,183.0 L556.8,171.0 L563.8,163.0 L569.8,157.0 L572.8,150.0 L583.0,148.6 L589.0,154.0 L594.0,146.0 L599.0,144.0 L609.0,146.6 L619.0,147.4 L628.0,149.0 L630.0,154.0 L637.0,154.6 L646.9,148.6 L650.9,143.0 L649.9,137.0 L652.9,128.0 L662.9,129.0 L668.9,133.4 L678.9,134.0 L683.9,136.6 L688.9,131.0 L697.9,126.6 L710.9,127.0 L718.9,129.4 L726.9,127.0 L735.9,127.0 L740.9,134.0 L745.9,140.0 L750.9,145.0 L748.9,153.0 L752.9,159.0 L759.9,167.0 L767.9,172.0 L768.9,180.0 L758.9,183.0 L750.9,185.0 L756.9,191.9 L760.9,199.9 L756.9,206.9 L761.9,212.9 L757.9,220.9 L766.9,220.9 L774.8,220.9 L781.8,220.9 L782.8,226.9 L790.8,227.9 L797.8,222.9 L807.8,222.9 L809.8,233.9 L812.8,238.9 L821.8,237.9 L820.8,246.9 L823.8,254.9 L826.8,262.9 L826.3,260.0 L828.2,268.8 L827.5,271.9 L823.1,272.6 L823.1,278.9 L825.7,283.3 L827.5,286.4 L833.2,288.3 L835.1,296.5 L843.9,296.5 L846.4,293.3 L845.8,290.8 L857.7,289.5 L864.0,290.2 L867.1,293.3 L870.3,293.9 L872.8,299.0 L874.0,302.7 L880.3,300.8 L888.5,302.7 L890.4,305.9 L891.0,310.0 L894.8,310.0 L896.7,305.9 L901.7,301.5 L906.7,299.0 L918.0,297.7 L925.6,295.2 L930.6,290.8 L938.1,289.5 L939.4,294.6 L943.2,298.3 L948.2,300.2 L948.2,309.0 L950.7,313.4 L955.1,319.1 L959.5,321.6 L964.5,325.4 L968.9,331.0 L971.5,336.0 L976.9,332.0 L980.9,328.0 L978.9,321.0 L984.9,319.0 L989.9,324.0 L996.9,329.0 L1006.9,327.0 L1008.9,332.0 L1012.9,337.0 L1019.9,338.0 L1022.9,345.0 L1031.8,342.0 L1035.8,337.0 L1038.8,345.0 L1042.8,348.0 L1053.8,348.0 L1059.8,352.0 L1062.8,360.0 L1068.9,363.9 L1076.9,365.9 L1081.9,361.5 L1089.9,361.0 L1090.9,365.9 L1085.9,369.9 L1083.9,372.9 L1087.9,378.9 L1091.9,382.9 L1093.8,389.9 L1092.9,393.9 L1087.9,395.9 L1082.9,400.9 L1078.9,406.9 L1073.9,408.9 L1063.9,411.9 L1064.9,415.5 L1068.9,417.9 L1071.9,422.9 L1078.9,423.5 L1082.9,420.9 L1084.9,423.8 L1083.9,428.8 L1079.9,430.8 L1074.9,428.2 L1070.9,427.4 L1070.9,430.8 L1067.9,433.8 L1065.9,440.8 L1063.9,446.8 L1069.9,449.4 L1073.9,452.8 L1076.9,462.8 L1076.9,469.8 L1073.9,472.2 L1078.9,473.8 L1080.9,476.8 L1078.9,481.8 L1076.9,487.7 L1074.9,493.7 L1071.9,496.7 L1070.8,505.0 L1068.8,513.0 L1060.8,513.4 L1054.8,512.6 L1048.8,512.0 L1044.8,510.6 L1036.8,512.0 L1028.8,511.0 L1020.9,510.0 L1015.9,514.0 L1013.9,520.0 L1012.9,526.0 L1006.9,526.0 L1003.9,530.0 L996.9,530.0 L990.9,533.0 L985.9,537.9 L984.9,544.9 L985.9,551.9 L982.9,556.9 L987.9,559.9 L986.9,562.9 L982.9,563.9 L981.9,574.9 L978.9,578.9 L975.9,581.9 L974.9,576.9" fill="none" stroke="#000" stroke-width="1.6" stroke-linejoin="round"/>
<path d="M974.9,576.9 L964.9,576.9 L956.9,577.3 L945.9,577.9 L940.9,580.9 L936.9,586.9 L933.9,592.9 L930.9,594.9 L927.9,589.9 L924.9,588.9 L918.9,592.9 L912.9,594.9 L906.9,599.9 L903.9,606.9 L902.9,612.9 L899.0,614.9 L900.9,607.9 L899.0,603.9 L893.0,602.9 L887.0,604.9 L879.0,607.9 L874.0,611.9 L871.0,618.9 L868.0,624.9 L864.0,626.9 L867.0,621.9 L870.0,614.9 L866.0,612.9 L857.0,613.5 L849.0,614.9 L843.0,618.9 L837.0,624.9 L826.8,632.9 L820.8,640.9 L816.8,648.9 L817.8,650.0 L812.8,662.0 L806.8,676.0 L799.8,689.0 L802.8,696.0 L808.8,706.0 L814.8,713.9 L819.8,721.9 L825.8,728.9 L830.8,730.9 L837.0,728.9 L837.0,726.9 L843.0,721.9 L848.0,713.9 L851.0,719.9 L859.0,721.9 L862.0,714.9 L872.0,713.5 L880.0,714.3 L890.0,717.9 L893.0,720.9 L892.0,725.9 L884.0,724.9 L882.0,731.9 L880.0,739.9 L882.0,747.9 L878.0,750.9 L871.0,749.9 L863.0,751.9 L856.0,753.9 L849.0,754.9 L845.0,749.9 L837.0,745.9 L837.0,743.9 L830.8,744.9 L824.8,747.9 L822.8,752.9 L820.8,758.9 L814.8,760.9 L808.8,765.9 L805.8,771.5 L802.8,768.9 L794.8,769.9 L786.8,770.9 L777.8,773.9 L770.8,777.9 L765.9,787.9 L762.9,793.9 L754.9,797.9 L752.9,801.9 L749.9,807.9 L740.9,809.9 L730.9,808.9 L728.9,805.9 L726.9,803.9 L722.9,799.9 L715.9,797.9 L710.9,791.9 L712.9,788.9 L718.9,787.9 L718.9,773.9 L720.9,767.9 L722.9,761.9 L720.9,753.9 L718.9,745.9 L713.9,740.3 L706.9,740.3 L700.9,740.3 L694.9,735.9 L688.9,729.9 L682.9,725.5 L678.0,723.3 L673.0,724.3 L671.7,726.8 L667.9,727.4 L662.9,726.8 L659.8,723.6 L660.4,718.0 L663.5,714.2 L667.9,711.7 L673.0,709.2 L678.0,706.7 L680.5,702.3 L685.5,699.1 L689.3,696.0 L694.3,694.1 L697.5,692.8 L698.7,688.4 L701.2,691.0 L707.5,689.1 L710.7,685.9 L713.8,682.8 L718.2,681.5 L723.2,679.6 L725.1,680.3 L727.0,682.2 L727.0,677.8 L731.4,675.9 L728.3,674.6 L725.1,673.4 L723.2,669.0 L724.5,664.6 L723.9,658.9 L721.3,657.4 L718.8,658.9 L717.6,663.3 L715.7,667.1 L711.9,666.5 L709.4,663.3 L705.6,662.7 L704.4,659.5 L701.2,656.4 L701.9,653.3 L700.6,652.0 L698.1,657.0 L694.3,658.7 L690.6,657.9 L689.3,659.5 L678.0,660.4 L670.4,661.2 L664.2,662.9 L670.4,665.2 L676.7,666.5 L683.0,667.1 L692.4,669.0 L692.4,669.6 L683.0,669.0 L678.0,667.7 L667.9,665.8 L657.9,663.3 L646.6,660.2 L634.0,656.4 L621.4,653.3 L608.9,648.9 L606.3,645.1 L605.1,637.5 L602.6,630.0 L602.5,628.3 L598.8,623.9 L593.1,622.1 L588.1,620.2 L585.6,616.6 L580.6,617.7 L574.3,619.5 L568.0,621.4 L563.0,623.7 L561.1,627.7 L563.0,632.7 L561.7,639.0 L557.9,641.5 L555.4,647.2 L552.3,652.8 L548.5,658.5 L545.4,662.9 L541.6,667.3 L537.2,673.6 L534.0,679.2 L526.5,685.5 L519.0,693.1 L512.1,699.4 L498.9,710.0 L498.9,713.9 L505.9,713.9 L505.9,724.9 L504.9,735.9 L501.9,735.9 L499.9,728.9 L495.9,720.9 L488.9,717.5 L482.9,716.9 L474.9,718.9 L468.9,722.9 L462.9,724.9 L458.9,730.9 L453.9,726.9 L450.9,728.9 L450.9,734.9 L444.9,735.5 L437.9,733.5 L430.9,730.9 L424.9,726.9 L421.9,719.9 L419.9,713.9 L423.9,708.0 L428.9,710.0 L430.9,713.9 L433.9,712.0 L437.9,708.0 L437.9,703.0 L434.9,698.0 L436.9,693.0 L438.9,691.0 L445.9,688.0 L449.9,685.0 L450.9,680.0 L449.9,673.0 L456.9,671.0 L462.9,669.0 L460.9,663.0 L463.9,658.0 L466.9,653.0 L461.9,650.0 L460.9,638.9 L459.9,629.9 L464.9,626.9 L471.9,622.9 L475.9,623.9 L476.9,637.9 L479.9,632.9 L481.9,626.9 L484.9,627.9 L488.9,629.9 L492.9,636.9 L498.9,638.9 L499.9,634.9 L502.9,629.9 L506.9,630.9 L507.9,636.9 L512.9,638.9 L518.8,637.9 L526.8,636.9 L527.8,632.9 L521.8,631.9 L518.8,628.9 L513.9,624.9 L516.8,618.9 L517.8,608.9 L516.8,599.9" fill="none" stroke="#000" stroke-width="1.15" stroke-linejoin="round"/>
<path d="M194.8,507.7 L187.8,505.7 L182.8,502.1 L178.8,502.7 L172.8,502.7 L168.8,499.3 L162.9,499.3 L155.9,498.7 L153.9,501.3 L147.9,499.7 L142.9,494.8 L139.9,489.4 L134.9,488.8 L132.3,493.8 L129.9,498.7 L121.9,501.3 L116.9,500.7 L117.9,494.8 L114.9,489.8 L110.9,488.8 L105.9,489.8 L103.9,486.8 L100.0,480.8 L95.0,477.8 L90.0,474.8 L86.0,469.8 L83.0,464.8 L78.0,461.8 L78.0,455.8 L79.0,447.8 L85.0,443.8 L89.0,437.8 L91.0,427.9 L93.0,419.9 L97.0,414.9 L101.0,409.9 L100.0,405.5 L102.9,404.9 L107.9,407.9 L112.9,408.9 L115.9,412.9 L118.9,411.9 L117.9,406.9 L114.9,401.9 L108.9,399.5 L110.9,393.9 L111.9,383.9 L109.9,373.9 L105.9,369.6 L108.9,365.0 L112.9,358.0 L119.9,348.0 L126.9,340.0 L133.0,330.0 L142.9,319.0 L154.9,308.0 L164.9,300.0 L163.9,298.9" fill="none" stroke="#000" stroke-width="1.25" stroke-linejoin="round"/>
</g>
<text transform="translate(609.3,45.2) scale(1.127,1)" text-anchor="middle" font-size="31.5" font-weight="bold" stroke="#000" stroke-width="0.35" style="font-family:'Liberation Serif',serif">Air temperature in February 2026, Ukraine</text>
<text transform="translate(609.3,85.2) scale(1.136,1)" text-anchor="middle" font-size="31.5" font-weight="bold" stroke="#000" stroke-width="0.35" style="font-family:'Liberation Serif',serif">Розподіл температури повітря за Лютий 2026</text>
<g fill="#000">
<text transform="matrix(0.36,0.81,-0.70,0.655,312.6,238.9)" x="0" y="0" text-anchor="middle" dominant-baseline="central" font-size="26.5" font-weight="bold">-6</text>
<text transform="matrix(0.36,0.81,-0.70,0.655,260.5,272.8)" x="0" y="0" text-anchor="middle" dominant-baseline="central" font-size="26.5" font-weight="bold">-5</text>
<text transform="matrix(0.36,0.81,-0.70,0.655,225.7,304.0)" x="0" y="0" text-anchor="middle" dominant-baseline="central" font-size="26.5" font-weight="bold">-4</text>
<text transform="matrix(0.36,0.81,-0.70,0.655,204.3,333.9)" x="0" y="0" text-anchor="middle" dominant-baseline="central" font-size="26.5" font-weight="bold">-3</text>
<text transform="matrix(0.36,0.81,-0.70,0.655,178.2,360.0)" x="0" y="0" text-anchor="middle" dominant-baseline="central" font-size="26.5" font-weight="bold">-2</text>
<text transform="matrix(0.36,0.81,-0.70,0.655,154.6,387.8)" x="0" y="0" text-anchor="middle" dominant-baseline="central" font-size="26.5" font-weight="bold">-1</text>
<text transform="matrix(0.36,0.81,-0.70,0.655,134.1,413.5)" x="0" y="0" text-anchor="middle" dominant-baseline="central" font-size="26.5" font-weight="bold">0</text>
<text transform="translate(901.5,380.3) scale(0.626,1)" x="0" y="0" text-anchor="middle" dominant-baseline="central" font-size="31.6" font-weight="bold">-5</text>
<text transform="translate(881.4,452.9) scale(0.626,1) rotate(23)" x="0" y="0" text-anchor="middle" dominant-baseline="central" font-size="29.5" font-weight="bold">-4</text>
<text transform="translate(846.5,513.9) scale(0.626,1) rotate(25)" x="0" y="0" text-anchor="middle" dominant-baseline="central" font-size="29.5" font-weight="bold">-3</text>
<text transform="translate(824.7,579.4) scale(0.626,1) rotate(21)" x="0" y="0" text-anchor="middle" dominant-baseline="central" font-size="29.5" font-weight="bold">-2</text>
<text transform="translate(792.7,631.3) scale(0.626,1) rotate(24)" x="0" y="0" text-anchor="middle" dominant-baseline="central" font-size="29.5" font-weight="bold">-1</text>
<text transform="translate(772.8,679.5) scale(0.626,1) rotate(19)" x="0" y="0" text-anchor="middle" dominant-baseline="central" font-size="29.5" font-weight="bold">0</text>
</g>
<ellipse cx="184.9" cy="725.8" rx="87.3" ry="56.6" fill="#fff" stroke="rgb(192,228,210)" stroke-width="2.3"/>
<path transform="translate(122.14,678.64) scale(0.1059,0.1055)" d="M164,299 L183,291 L184,265 L190,256 L179,235 L164,215 L161,191 L177,192 L193,183 L203,169 L239,164 L256,161 L275,164 L294,163 L317,170 L336,173 L351,177 L366,190 L381,189 L393,202 L401,189 L417,188 L427,196 L445,195 L453,195 L470,187 L482,209 L504,198 L521,200 L540,212 L556,209 L551,183 L570,157 L589,154 L609,147 L630,154 L651,143 L663,129 L684,137 L711,127 L736,127 L751,145 L760,167 L759,183 L761,200 L758,221 L782,221 L798,223 L813,239 L824,255 L828,269 L823,279 L833,288 L846,293 L864,290 L873,299 L888,303 L895,310 L907,299 L931,291 L943,298 L951,313 L964,325 L977,332 L985,319 L1007,327 L1020,338 L1036,337 L1054,348 L1069,364 L1090,361 L1084,373 L1094,390 L1083,401 L1064,412 L1072,423 L1085,424 L1075,428 L1068,434 L1070,449 L1077,470 L1081,477 L1075,494 L1069,513 L1049,512 L1029,511 L1014,520 L1004,530 L986,538 L983,557 L983,564 L976,582 L957,577 L937,587 L928,590 L913,595 L903,613 L899,604 L879,608 L868,625 L870,615 L849,615 L827,633 L818,650 L800,689 L815,714 L831,731 L843,722 L859,722 L880,714 L892,726 L880,740 L871,750 L849,755 L837,744 L823,753 L809,766 L795,770 L771,778 L755,798 L741,810 L727,804 L711,792 L719,774 L721,754 L707,740 L689,730 L673,724 L663,727 L664,714 L678,707 L689,696 L699,688 L711,686 L723,680 L727,678 L725,673 L724,659 L718,663 L709,663 L701,656 L698,657 L689,660 L664,663 L683,667 L683,669 L658,663 L621,653 L605,638 L599,624 L586,617 L568,621 L563,633 L555,647 L545,663 L534,679 L512,699 L506,714 L502,736 L489,718 L469,723 L454,727 L445,736 L425,727 L424,708 L434,712 L435,698 L446,688 L450,673 L461,663 L462,650 L465,627 L477,638 L485,628 L499,639 L507,631 L519,638 L522,632 L517,619 L514,596 L501,592 L497,579 L497,563 L488,559 L477,548 L476,533 L477,516 L473,499 L465,501 L455,489 L438,485 L433,492 L428,478 L412,476 L401,466 L386,460 L380,461 L370,461 L362,467 L352,464 L343,464 L336,470 L330,477 L313,484 L304,502 L285,503 L257,507 L246,520 L230,519 L217,503 L200,505 L183,502 L169,499 L154,501 L140,489 L130,499 L118,495 L106,490 L95,478 L83,465 L79,448 L91,428 L101,410 L108,408 L119,412 L109,400 L110,374 L113,358 L133,330 L165,300 Z" fill="rgb(188,226,206)"/>
<path id="arcT" d="M110.55,733.23 A75.5,42.8 0 1 1 259.25,733.23" fill="none"/>
<path id="arcB" d="M109.56,733.84 A76.5,46.3 0 0 0 260.24,733.84" fill="none"/>
<text font-weight="bold" font-size="7.1" fill="#000" style="font-family:'Liberation Serif',serif"><textPath href="#arcT" startOffset="50%" text-anchor="middle" textLength="172" lengthAdjust="spacing">ЦЕНТРАЛЬНА ГЕОФІЗИЧНА ОБСЕРВАТОРІЯ</textPath></text>
<text font-weight="bold" font-size="6.7" fill="#000" style="font-family:'Liberation Serif',serif"><textPath href="#arcB" startOffset="50%" text-anchor="middle" textLength="112" lengthAdjust="spacing">ІМЕНІ БОРИСА СРЕЗНЕВСЬКОГО</textPath></text>
<text x="184.9" y="779.6" text-anchor="middle" font-weight="bold" font-size="7.2" fill="#111" style="font-family:'Liberation Serif',serif">1855</text>
<text x="183.1" y="718.2" text-anchor="middle" font-weight="bold" font-size="8.6" fill="#111" style="font-family:'Liberation Serif',serif">київ</text>
<circle cx="183.9" cy="708.5" r="2.1" fill="#000"/>
<path d="M201.76,694.27 L205.40,695.00 L201.76,695.73 Z M201.65,696.35 L204.82,698.28 L201.15,697.72 Z M200.83,698.27 L203.15,701.17 L199.89,699.39 Z M199.41,699.79 L200.60,703.31 L198.14,700.52 Z M197.55,700.74 L197.47,704.45 L196.11,700.99 Z M195.49,700.99 L194.13,704.45 L194.05,700.74 Z M193.46,700.52 L191.00,703.31 L192.19,699.79 Z M191.71,699.39 L188.45,701.17 L190.77,698.27 Z M190.45,697.72 L186.78,698.28 L189.95,696.35 Z M189.84,695.73 L186.20,695.00 L189.84,694.27 Z M189.95,693.65 L186.78,691.72 L190.45,692.28 Z M190.77,691.73 L188.45,688.83 L191.71,690.61 Z M192.19,690.21 L191.00,686.69 L193.46,689.48 Z M194.05,689.26 L194.13,685.55 L195.49,689.01 Z M196.11,689.01 L197.47,685.55 L197.55,689.26 Z M198.14,689.48 L200.60,686.69 L199.41,690.21 Z M199.89,690.61 L203.15,688.83 L200.83,691.73 Z M201.15,692.28 L204.82,691.72 L201.65,693.65 Z" fill="rgb(250,176,76)"/>
<circle cx="195.8" cy="695.0" r="6.9" fill="rgb(250,166,62)"/>
<circle cx="199.7" cy="701.9" r="4.6" fill="rgb(86,138,206)"/>
<circle cx="207.2" cy="701.2" r="5.4" fill="rgb(86,138,206)"/>
<circle cx="217.2" cy="701.2" r="4.3" fill="rgb(86,138,206)"/>
<circle cx="222.5" cy="706.8" r="3.6" fill="rgb(86,138,206)"/>
<circle cx="192.6" cy="707.0" r="3.6" fill="rgb(86,138,206)"/>
<circle cx="213.1" cy="704.9" r="5.2" fill="rgb(86,138,206)"/>
<rect x="191.5" y="703.8" width="32.1" height="7.2" rx="3" fill="rgb(86,138,206)"/>
<path d="M196.9,713.9 Q197.8,717.3 195.6,717.8 Q193.4,717.1 196.9,713.9 Z" fill="rgb(100,158,200)"/>
<path d="M204.4,713.9 Q205.3,717.3 203.1,717.8 Q200.9,717.1 204.4,713.9 Z" fill="rgb(100,158,200)"/>
<path d="M211.8,713.9 Q212.7,717.3 210.5,717.8 Q208.3,717.1 211.8,713.9 Z" fill="rgb(100,158,200)"/>
<path d="M219.7,713.8 Q220.6,717.2 218.4,717.7 Q216.2,717.0 219.7,713.8 Z" fill="rgb(100,158,200)"/>
<path d="M198.8,720.6 Q199.7,724.0 197.5,724.5 Q195.3,723.8 198.8,720.6 Z" fill="rgb(100,158,200)"/>
<path d="M206.6,720.6 Q207.5,724.0 205.3,724.5 Q203.1,723.8 206.6,720.6 Z" fill="rgb(100,158,200)"/>
<path d="M215.2,720.0 Q216.1,723.4 213.9,723.9 Q211.7,723.2 215.2,720.0 Z" fill="rgb(100,158,200)"/>
<path d="M201.0,726.8 Q201.9,730.2 199.7,730.7 Q197.5,730.0 201.0,726.8 Z" fill="rgb(100,158,200)"/>
<path d="M209.6,726.2 Q210.5,729.6 208.3,730.1 Q206.1,729.4 209.6,726.2 Z" fill="rgb(100,158,200)"/>
<path d="M203.2,732.6 Q204.1,736.0 201.9,736.5 Q199.7,735.8 203.2,732.6 Z" fill="rgb(100,158,200)"/>
<g fill="none" stroke="#000" stroke-width="0.9" stroke-linecap="round"><ellipse cx="158.4" cy="734.8" rx="12.6" ry="7.3" transform="rotate(22 158.4 734.8)" stroke-width="1.25" fill="#fff"/>
<path d="M151.2,731.4 L160.0,728.8" stroke-width="0.55"/>
<path d="M154.6,738.5 L160.0,728.8" stroke-width="0.55"/>
<path d="M165.4,738.9 L160.0,728.8" stroke-width="0.55"/>
<path d="M160.0,728.8 L161.8,725.3" stroke-width="0.8"/>
<circle cx="160.0" cy="728.8" r="0.9" fill="#000" stroke="none"/>
<path d="M151.2,741.9 L146.9,750.4 L150.1,750.4 L152.4,744.9 L155.8,750.4 L158.3,750.4 Z" fill="#000" stroke-width="0.5"/>
<path d="M146.9,750.4 L158.3,750.4" stroke-width="0.9"/></g>
<g>
<rect x="69.4" y="126.5" width="2" height="681.3" fill="#000"/>
<rect x="76.7" y="122.9" width="1017.3" height="1.0" fill="#000"/>
<rect x="76.7" y="805.85" width="1019.6" height="1.85" fill="#000"/>
<rect x="1094.3" y="126.5" width="2" height="681.3" fill="#000"/>
<rect x="181" y="105" width="1" height="18" fill="#000"/>
<rect x="181" y="807" width="1" height="20.6" fill="#000"/>
<rect x="294" y="105" width="1" height="18" fill="#000"/>
<rect x="294" y="807" width="1" height="20.6" fill="#000"/>
<rect x="406" y="105" width="1" height="18" fill="#000"/>
<rect x="406" y="807" width="1" height="20.6" fill="#000"/>
<rect x="519" y="105" width="1" height="18" fill="#000"/>
<rect x="519" y="807" width="1" height="20.6" fill="#000"/>
<rect x="632" y="105" width="1" height="18" fill="#000"/>
<rect x="632" y="807" width="1" height="20.6" fill="#000"/>
<rect x="744" y="105" width="1" height="18" fill="#000"/>
<rect x="744" y="807" width="1" height="20.6" fill="#000"/>
<rect x="857" y="105" width="1" height="18" fill="#000"/>
<rect x="857" y="807" width="1" height="20.6" fill="#000"/>
<rect x="969" y="105" width="1" height="18" fill="#000"/>
<rect x="969" y="807" width="1" height="20.6" fill="#000"/>
<rect x="1082" y="105" width="1" height="18" fill="#000"/>
<rect x="1082" y="807" width="1" height="20.6" fill="#000"/>
<rect x="58" y="156.3" width="12" height="1.4" fill="#000"/>
<rect x="1095" y="156.0" width="14" height="1.9" fill="#000"/>
<rect x="58" y="327.1" width="12" height="1.4" fill="#000"/>
<rect x="1095" y="326.8" width="14" height="1.9" fill="#000"/>
<rect x="58" y="497.9" width="12" height="1.4" fill="#000"/>
<rect x="1095" y="497.6" width="14" height="1.9" fill="#000"/>
<rect x="58" y="668.7" width="12" height="1.4" fill="#000"/>
<rect x="1095" y="668.4" width="14" height="1.9" fill="#000"/>
<text transform="translate(181.6,858) scale(0.685,1)" text-anchor="middle" font-size="37">24</text>
<text transform="translate(294.2,858) scale(0.685,1)" text-anchor="middle" font-size="37">26</text>
<text transform="translate(406.9,858) scale(0.685,1)" text-anchor="middle" font-size="37">28</text>
<text transform="translate(519.5,858) scale(0.685,1)" text-anchor="middle" font-size="37">30</text>
<text transform="translate(632.2,858) scale(0.685,1)" text-anchor="middle" font-size="37">32</text>
<text transform="translate(744.8,858) scale(0.685,1)" text-anchor="middle" font-size="37">34</text>
<text transform="translate(857.4,858) scale(0.685,1)" text-anchor="middle" font-size="37">36</text>
<text transform="translate(970.1,858) scale(0.685,1)" text-anchor="middle" font-size="37">38</text>
<text transform="translate(1082.7,858) scale(0.685,1)" text-anchor="middle" font-size="37">40</text>
<text transform="translate(55.2,168.3) scale(0.62,1)" text-anchor="end" font-size="37">52</text>
<text transform="translate(55.2,339.1) scale(0.62,1)" text-anchor="end" font-size="37">50</text>
<text transform="translate(55.2,509.9) scale(0.62,1)" text-anchor="end" font-size="37">48</text>
<text transform="translate(55.2,680.7) scale(0.62,1)" text-anchor="end" font-size="37">46</text>
</g>
<g>
<rect x="1147.5" y="312.60" width="39.8" height="29.06" fill="rgb(254,235,219)"/>
<rect x="1147.5" y="341.36" width="39.8" height="29.06" fill="rgb(254,242,230)"/>
<rect x="1147.5" y="370.12" width="39.8" height="29.06" fill="rgb(254,249,241)"/>
<rect x="1147.5" y="398.88" width="39.8" height="29.06" fill="rgb(255,255,255)"/>
<rect x="1147.5" y="427.64" width="39.8" height="29.06" fill="rgb(224,224,254)"/>
<rect x="1147.5" y="456.40" width="39.8" height="29.06" fill="rgb(193,193,252)"/>
<rect x="1147.5" y="485.16" width="39.8" height="29.06" fill="rgb(162,162,250)"/>
<rect x="1147.5" y="513.92" width="39.8" height="29.06" fill="rgb(131,131,250)"/>
<rect x="1147.5" y="542.68" width="39.8" height="29.06" fill="rgb(100,100,250)"/>
<rect x="1147.5" y="571.44" width="39.8" height="29.06" fill="rgb(100,100,250)"/>
<rect x="1147.5" y="600.20" width="39.8" height="29.06" fill="rgb(100,100,250)"/>
<rect x="1147.5" y="340.46" width="39.8" height="1.8" fill="#000"/>
<rect x="1147.5" y="369.22" width="39.8" height="1.8" fill="#000"/>
<rect x="1147.5" y="397.98" width="39.8" height="1.8" fill="#000"/>
<rect x="1147.5" y="427.04" width="39.8" height="1.2" fill="#000"/>
<rect x="1147.5" y="455.80" width="39.8" height="1.2" fill="#000"/>
<rect x="1147.5" y="484.56" width="39.8" height="1.2" fill="#000"/>
<rect x="1147.5" y="513.32" width="39.8" height="1.2" fill="#000"/>
<rect x="1147.5" y="542.08" width="39.8" height="1.2" fill="#000"/>
<rect x="1147.5" y="570.84" width="39.8" height="1.2" fill="#000"/>
<rect x="1147.5" y="599.60" width="39.8" height="1.2" fill="#000"/>
<rect x="1147.5" y="312.6" width="39.8" height="316.4" fill="none" stroke="#000" stroke-width="1.9"/>
<text transform="translate(1191.5,348.6) scale(0.88,1)" font-size="26" fill="#111">3</text>
<text transform="translate(1191.5,377.3) scale(0.88,1)" font-size="26" fill="#111">2</text>
<text transform="translate(1191.5,406.1) scale(0.88,1)" font-size="26" fill="#111">1</text>
<text transform="translate(1191.5,434.8) scale(0.88,1)" font-size="26" fill="#111">0</text>
<text transform="translate(1191.5,463.6) scale(0.88,1)" font-size="26" fill="#111">-1</text>
<text transform="translate(1191.5,492.4) scale(0.88,1)" font-size="26" fill="#111">-2</text>
<text transform="translate(1191.5,521.1) scale(0.88,1)" font-size="26" fill="#111">-3</text>
<text transform="translate(1191.5,549.9) scale(0.88,1)" font-size="26" fill="#111">-4</text>
<text transform="translate(1191.5,578.6) scale(0.88,1)" font-size="26" fill="#111">-5</text>
<text transform="translate(1191.5,607.4) scale(0.88,1)" font-size="26" fill="#111">-6</text>
<text transform="translate(1191.5,636.2) scale(0.88,1)" font-size="26" fill="#111">-7</text>
</g>
</svg>
</body></html>
